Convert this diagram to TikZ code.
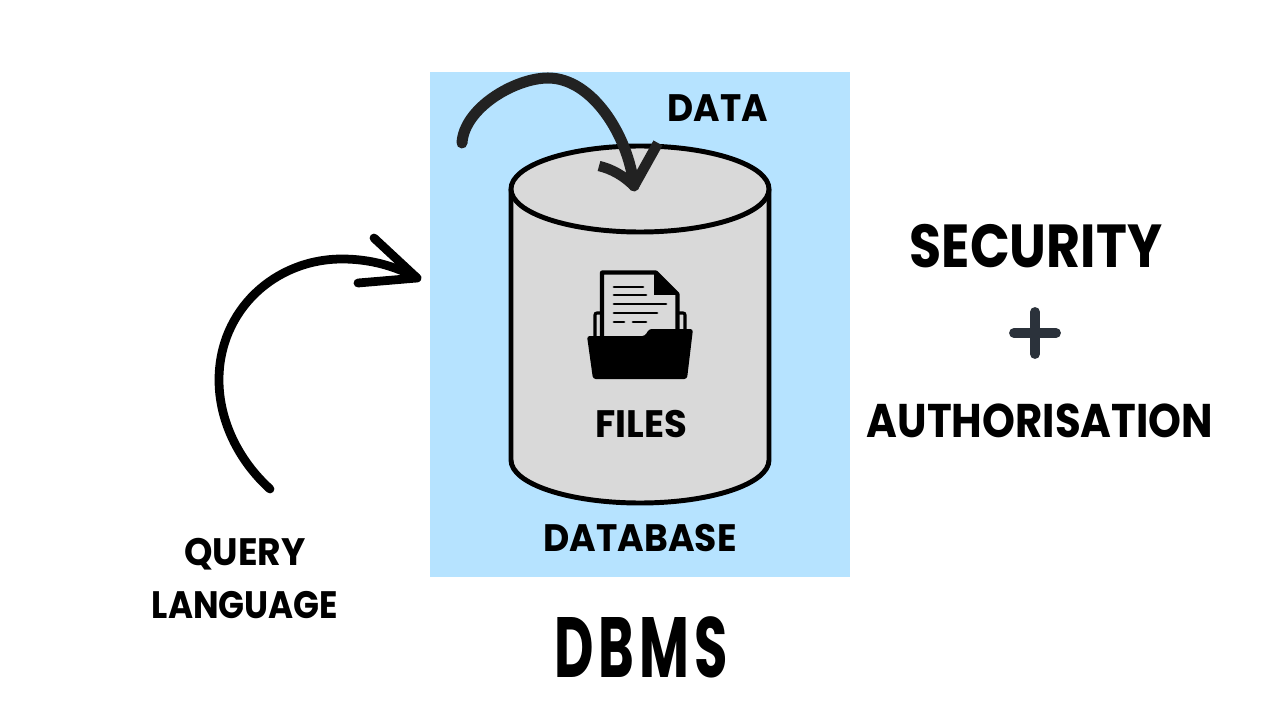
\documentclass[tikz,border=0pt]{standalone}
\usepackage{fontspec}
\setmainfont{Poppins}
\definecolor{panelblue}{HTML}{B6E3FF}
\definecolor{cylgray}{HTML}{D9D9D9}
\definecolor{arrowdark}{HTML}{222222}
\definecolor{plusdark}{HTML}{2B323B}
\tikzset{
	label/.style={font=\bfseries, text=black, inner sep=0pt, transform shape},
	small label/.style={label, font=\fontsize{17}{20}\selectfont\bfseries},
	cylline/.style={draw=black, line width=2.2pt, line join=round},
	arrowline/.style={line cap=round, line join=round},
	docline/.style={black, line width=1.3pt, line cap=round},
}
\begin{document}
\begin{tikzpicture}[x=0.015625cm, y=-0.015625cm]
	\useasboundingbox (0,0) rectangle (1280,720);
	\fill[white] (0,0) rectangle (1280,720);
	\fill[panelblue] (430,72) rectangle (850,577);
	% cylinder
	\def\a{129}
	\def\b{43}
	\coordinate (TL) at (511,189);
	\coordinate (TR) at (769,189);
	\coordinate (BL) at (511,460);
	\coordinate (BR) at (769,460);
	\draw[cylline, fill=cylgray] (TL) -- (BL) arc[start angle=180, end angle=360, x radius=\a, y radius=-\b] -- (TR);
	\draw[cylline, fill=cylgray] (640,189) ellipse[x radius=\a, y radius=\b];
	% document in folder
	\draw[black, line width=1.4pt, rounded corners=0.9pt] (595,336) -- (595,313) -- (685,313) -- (685,336);
	\draw[black, fill=cylgray, line width=1.8pt, line join=round] (602,338) -- (602,272.5) -- (656,272.5) -- (677.5,294) -- (677.5,338);
	\fill[black] (654,272) -- (678,295) -- (654,295) -- cycle;
	\draw[docline] (614,287) -- (643,287);
	\draw[docline] (614,295) -- (646,295);
	\draw[docline] (614,304) -- (666,304);
	\draw[docline] (614,313) -- (657,313);
	\draw[docline] (614,322) -- (624,322);
	\draw[docline] (633,322) -- (646,322);
	\fill[black, rounded corners=1.2pt] (587,336) -- (645,336) -- (649,329) -- (693,329) -- (687,379) -- (593,379) -- cycle;
	% arrow into the top
	\coordinate (dataStart) at (462,143);
	\coordinate (dataEnd) at (634,186);
	\coordinate (dataHeadL) at (599,166);
	\coordinate (dataHeadR) at (658,143);
	\draw[arrowdark, line width=4.9pt, line cap=round] (dataStart) .. controls (464,108) and (515,78) .. (548,78) .. controls (592,78) and (628,135) .. (dataEnd);
	\draw[arrowdark, line width=4.6pt, line join=bevel] (dataHeadL) .. controls (612,169) and (624,176) .. (dataEnd) -- (dataHeadR);
	% arrow to the panel
	\coordinate (queryStart) at (270,489);
	\coordinate (queryEnd) at (417,278);
	\coordinate (queryHeadL) at (374,238);
	\coordinate (queryHeadR) at (358,283);
	\draw[arrowline, black, line width=3.9pt] (queryStart) .. controls (238,460) and (219,420) .. (219,380) .. controls (219,310) and (275,259) .. (342,259) .. controls (370,259) and (395,266) .. (queryEnd);
	\draw[arrowline, black, line width=3.9pt] (queryHeadL) -- (queryEnd) -- (queryHeadR);
	% plus
	\draw[plusdark, line width=4.4pt, line cap=round] (1014,333) -- (1056,333);
	\draw[plusdark, line width=4.4pt, line cap=round] (1035,312) -- (1035,354);
	% labels
	\node[small label, xscale=0.94] (data) at (718,108) {DATA};
	\node[small label, xscale=0.97] (files) at (641,424) {FILES};
	\node[small label, xscale=0.945] (database) at (640,538) {DATABASE};
	\node[small label, xscale=0.945] (query) at (245,554) {QUERY};
	\node[small label, xscale=0.89] (language) at (245,605) {LANGUAGE};
	\node[label, font=\fontsize{27}{30}\selectfont\bfseries, xscale=0.86] (security) at (1036,246) {SECURITY};
	\node[label, font=\fontsize{21}{25}\selectfont\bfseries, xscale=0.886] (auth) at (1040,421) {AUTHORISATION};
	\node[label, font=\fontsize{38}{42}\selectfont\bfseries\addfontfeatures{LetterSpace=9}, xscale=0.635] (dbms) at (641,647) {DBMS};
\end{tikzpicture}
\end{document}
